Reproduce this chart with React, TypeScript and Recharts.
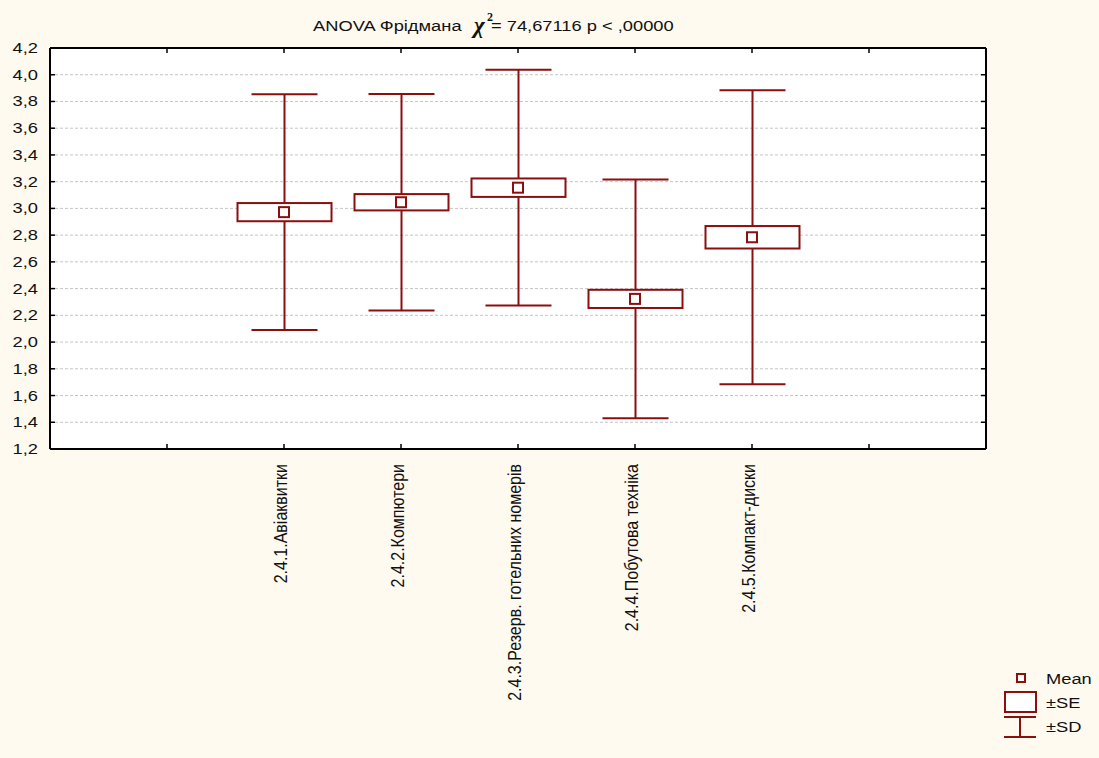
import React from 'react'
import {
  ComposedChart,
  Bar,
  Scatter,
  XAxis,
  YAxis,
  CartesianGrid,
} from 'recharts'

// Friedman ANOVA summary
const categories = [
  '2.4.1.Авіаквитки',
  '2.4.2.Компютери',
  '2.4.3.Резерв. готельних номерів',
  '2.4.4.Побутова техніка',
  '2.4.5.Компакт-диски',
]
const positions = [2, 3, 4, 5, 6]
const means = [2.972, 3.046, 3.155, 2.323, 2.784]
const se = [0.068, 0.061, 0.069, 0.068, 0.084]
const sd = [0.882, 0.81, 0.882, 0.893, 1.1]

const xTicks = [1, 2, 3, 4, 5, 6, 7]
const yTicks = [1.2, 1.4, 1.6, 1.8, 2.0, 2.2, 2.4, 2.6, 2.8, 3.0, 3.2, 3.4, 3.6, 3.8, 4.0, 4.2]

const RED = '#8b0f0f'
const BG = '#fffaf0'
const FONT = '"Liberation Sans", Arial, sans-serif'
const SERIF = '"Liberation Serif", "Times New Roman", serif'
const STRETCH = 1.22 // the source raster is a bit wider than tall

const data = positions.map((x, i) => ({
  x,
  name: categories[i],
  mean: means[i],
  se: se[i],
  sd: sd[i],
}))

const labelFor = (v: number) => {
  const idx = positions.indexOf(v)
  return idx >= 0 ? categories[idx] : ''
}

function WhiskerShape(props: any) {
  const { x, y, width, height } = props
  const cx = x + width / 2
  return (
    <g stroke={RED} strokeWidth={2}>
      <line x1={cx} x2={cx} y1={y} y2={y + height} />
      <line x1={x} x2={x + width} y1={y} y2={y} />
      <line x1={x} x2={x + width} y1={y + height} y2={y + height} />
    </g>
  )
}

function BoxShape(props: any) {
  const { x, y, width, height } = props
  return <rect x={x} y={y} width={width} height={height} fill="#fff" stroke={RED} strokeWidth={2} />
}

function MeanShape(props: any) {
  const { cx, cy } = props
  return <rect x={cx - 5} y={cy - 5} width={10} height={10} fill="#fff" stroke={RED} strokeWidth={2} />
}

function BottomTick(props: any) {
  const { x, y, payload } = props
  return (
    <g>
      <line x1={x} x2={x} y1={y} y2={y - 5} stroke="#000" strokeWidth={1.5} />
      <text
        transform={`translate(${x + 3},${y + 15}) rotate(-90) scale(1,${STRETCH * 0.9})`}
        textAnchor="end"
        fontSize={16}
        fontFamily={FONT}
        fill="#111"
      >
        {labelFor(payload.value)}
      </text>
    </g>
  )
}

function TopTick(props: any) {
  const { x, y } = props
  return <line x1={x} x2={x} y1={y} y2={y + 5} stroke="#000" strokeWidth={1.5} />
}

function LeftTick(props: any) {
  const { x, y, payload } = props
  return (
    <g>
      <line x1={x} x2={x + 5} y1={y} y2={y} stroke="#000" strokeWidth={1.5} />
      <text
        transform={`translate(${x - 12},${y + 5}) scale(${STRETCH},1)`}
        textAnchor="end"
        fontSize={15}
        fontFamily={FONT}
        fill="#111"
      >
        {payload.value.toFixed(1).replace('.', ',')}
      </text>
    </g>
  )
}

function RightTick(props: any) {
  const { x, y } = props
  return <line x1={x} x2={x - 5} y1={y} y2={y} stroke="#000" strokeWidth={1.5} />
}

function Title() {
  return (
    <svg width={1099} height={48} style={{ position: 'absolute', left: 0, top: 0 }}>
      <g fontFamily={FONT} fontSize={15} fill="#111">
        <text transform={`translate(313,31) scale(${STRETCH},1)`}>ANOVA Фрідмана</text>
        <text transform={`translate(491,31) scale(${STRETCH},1)`}>= 74,67116 p &lt; ,00000</text>
      </g>
      <text x={474} y={33} fontFamily={SERIF} fontStyle="italic" fontWeight="bold" fontSize={23} fill="#111">
        χ
      </text>
      <text x={487} y={21} fontFamily={SERIF} fontWeight="bold" fontSize={12} fill="#111">
        2
      </text>
    </svg>
  )
}

function Legend() {
  return (
    <svg width={99} height={80} style={{ position: 'absolute', left: 1000, top: 666 }}>
      <rect x={17} y={8} width={8} height={8} fill="#fff" stroke={RED} strokeWidth={2} />
      <rect x={5} y={26} width={31} height={20} fill="#fff" stroke={RED} strokeWidth={2} />
      <g stroke={RED} strokeWidth={2}>
        <line x1={4} x2={36} y1={51} y2={51} />
        <line x1={4} x2={36} y1={71} y2={71} />
        <line x1={20} x2={20} y1={51} y2={71} />
      </g>
      <g fontFamily={FONT} fontSize={15} fill="#111">
        <text transform={`translate(46,18) scale(${STRETCH},1)`}>Mean</text>
        <text transform={`translate(46,42) scale(${STRETCH},1)`}>±SE</text>
        <text transform={`translate(46,66) scale(${STRETCH},1)`}>±SD</text>
      </g>
    </svg>
  )
}

export default function App() {
  return (
    <div
      style={{
        position: 'absolute',
        left: 0,
        top: 0,
        width: 1099,
        height: 758,
        background: BG,
        fontFamily: FONT,
      }}
    >
      <ComposedChart
        width={1099}
        height={758}
        data={data}
        margin={{ top: 47, right: 112, bottom: 9, left: 5 }}
        style={{ position: 'absolute', left: 0, top: 0 }}
      >
        <CartesianGrid
          horizontal
          vertical={false}
          stroke="#c4c4c4"
          strokeDasharray="3 2"
          yAxisId="left"
          xAxisId="main"
          fill="#fff"
          fillOpacity={1}
        />
        <XAxis
          xAxisId="main"
          dataKey="x"
          type="number"
          domain={[0, 8]}
          ticks={xTicks}
          height={300}
          tickSize={0}
          tickMargin={0}
          axisLine={{ stroke: '#000', strokeWidth: 2 }}
          tickLine={false}
          tick={<BottomTick />}
          allowDataOverflow
        />
        <XAxis
          xAxisId="top"
          dataKey="x"
          type="number"
          orientation="top"
          domain={[0, 8]}
          ticks={xTicks}
          height={1}
          tickSize={0}
          tickMargin={0}
          axisLine={{ stroke: '#000', strokeWidth: 2 }}
          tickLine={false}
          tick={<TopTick />}
          allowDataOverflow
        />
        <XAxis xAxisId="sd" dataKey="x" type="number" domain={[0, 8]} hide allowDataOverflow />
        <XAxis xAxisId="se" dataKey="x" type="number" domain={[0, 8]} hide allowDataOverflow />
        <YAxis
          yAxisId="left"
          type="number"
          domain={[1.2, 4.2]}
          ticks={yTicks}
          width={45}
          tickSize={0}
          tickMargin={0}
          axisLine={{ stroke: '#000', strokeWidth: 2 }}
          tickLine={false}
          tick={<LeftTick />}
          interval={0}
          allowDataOverflow
        />
        <YAxis
          yAxisId="right"
          orientation="right"
          type="number"
          domain={[1.2, 4.2]}
          ticks={yTicks}
          width={1}
          tickSize={0}
          tickMargin={0}
          axisLine={{ stroke: '#000', strokeWidth: 2 }}
          tickLine={false}
          tick={<RightTick />}
          interval={0}
          allowDataOverflow
        />
        {/* ±SD whiskers */}
        <Bar
          xAxisId="sd"
          yAxisId="left"
          dataKey={(d: any) => [d.mean - d.sd, d.mean + d.sd]}
          barSize={66}
          shape={<WhiskerShape />}
          isAnimationActive={false}
        />
        {/* ±SE boxes */}
        <Bar
          xAxisId="se"
          yAxisId="left"
          dataKey={(d: any) => [d.mean - d.se, d.mean + d.se]}
          barSize={94}
          shape={<BoxShape />}
          isAnimationActive={false}
        />
        {/* means */}
        <Scatter
          xAxisId="main"
          yAxisId="left"
          dataKey="mean"
          shape={<MeanShape />}
          isAnimationActive={false}
        />
      </ComposedChart>
      <Title />
      <Legend />
    </div>
  )
}
